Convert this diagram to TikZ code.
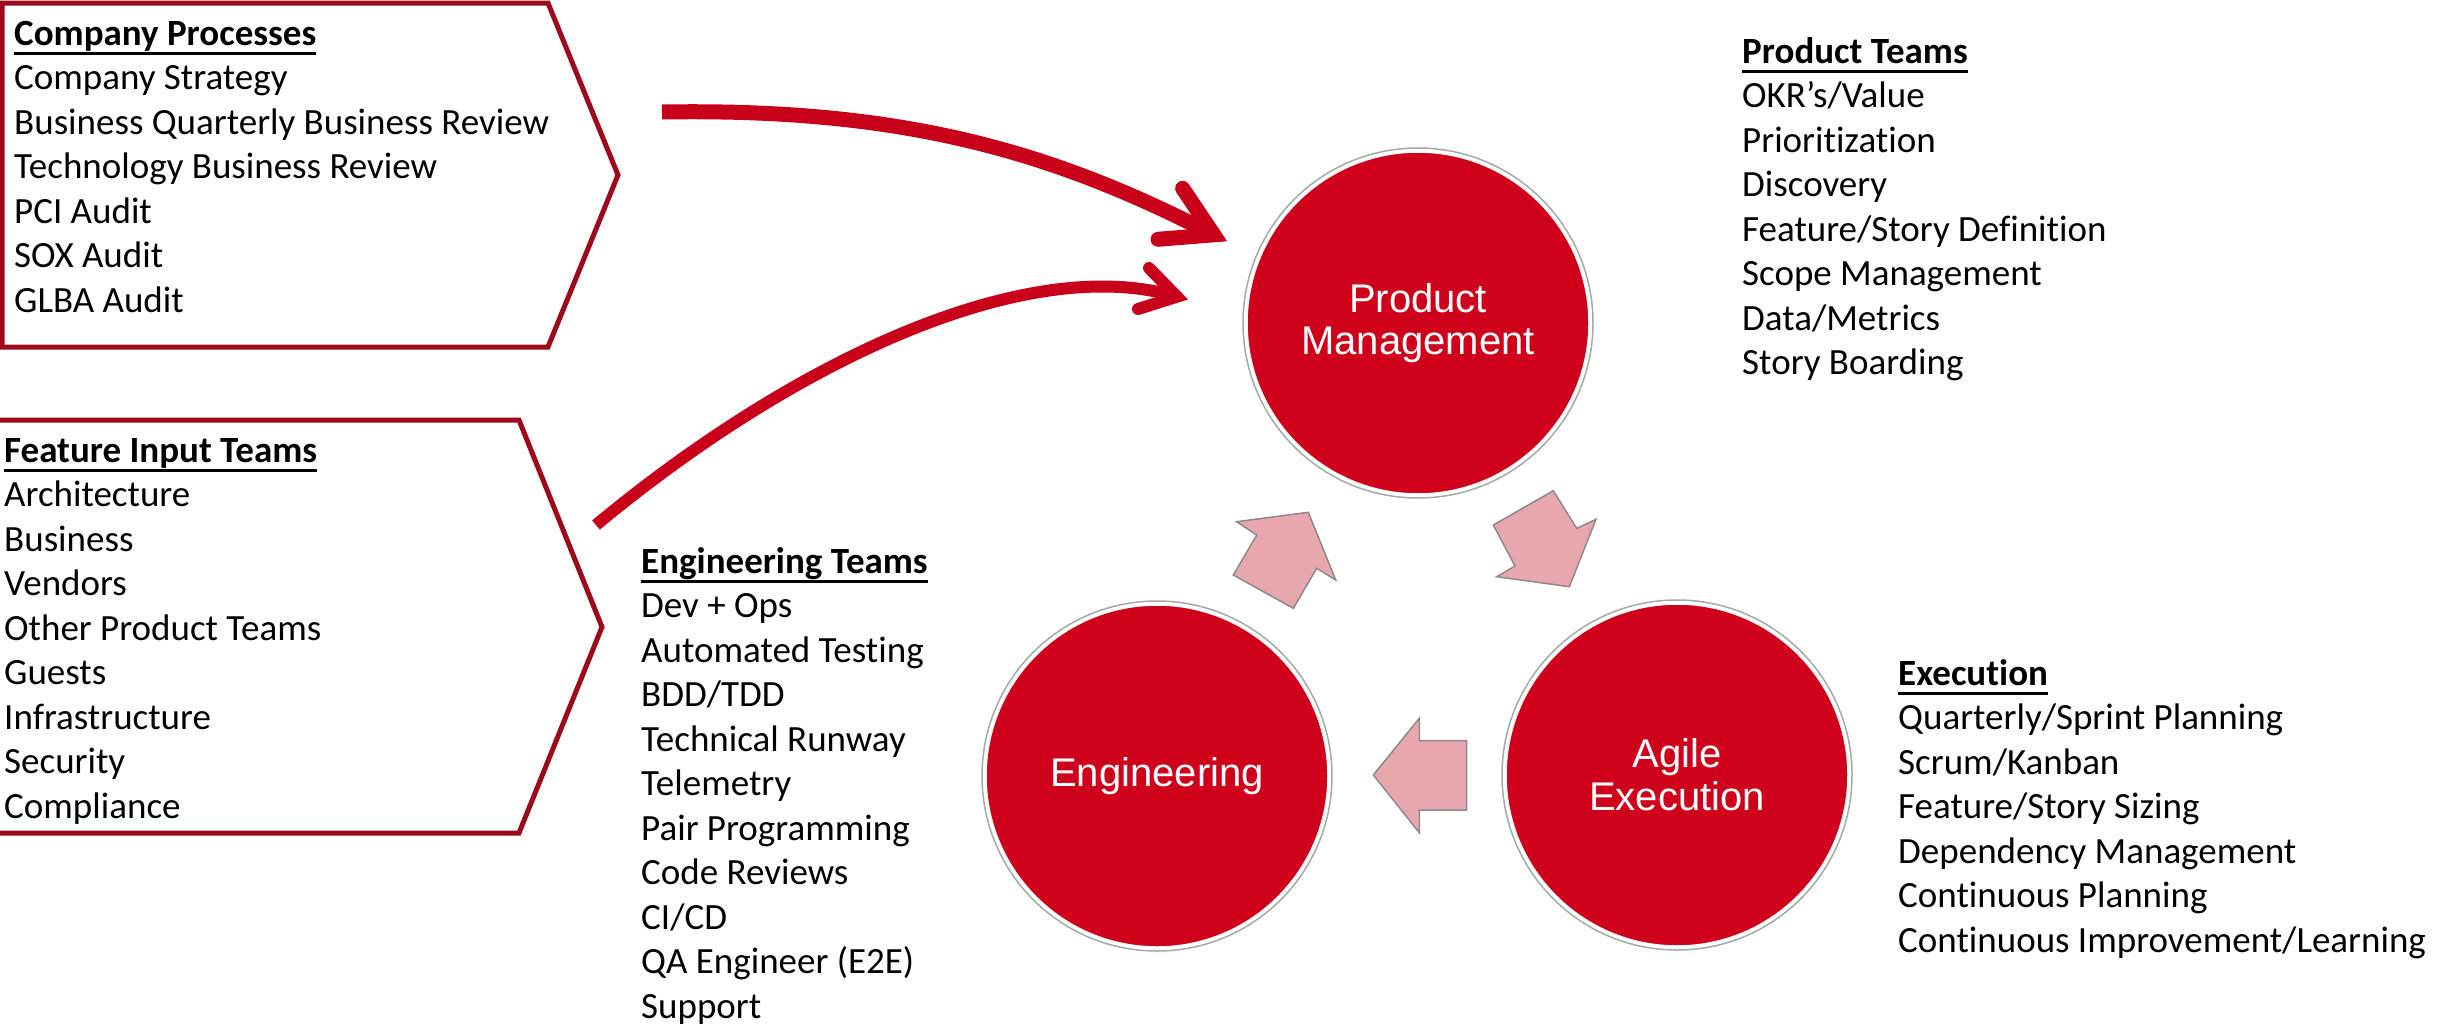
\documentclass[tikz,border=0pt]{standalone}
\usepackage{fontspec}
\setmainfont{Carlito}[Ligatures=NoCommon]
\newfontfamily\arialf{Liberation Sans}
\definecolor{arrred}{HTML}{C8001A}
\definecolor{circred}{HTML}{D0011B}
\definecolor{pentred}{HTML}{9C0A1C}
\definecolor{pinkfill}{HTML}{E8A7AF}
\definecolor{pinkline}{HTML}{8F8A8A}
\definecolor{ringgray}{HTML}{A3ACA3}
\newcommand\myhead[1]{\setbox0\hbox{\bfseries #1}\rlap{\rule[-9.5pt]{\wd0}{2.7pt}}\box0}
\begin{document}
\begin{tikzpicture}[x=1pt,y=-1pt,
  pent/.style={draw=pentred,line width=5pt,line join=miter},
  txt/.style={anchor=base west,inner sep=0pt,font=\fontsize{37}{44.5}\selectfont},
  bigc/.style={circle,fill=circred,draw=white,line width=3.5pt,minimum size=344pt,inner sep=0pt,
    text=white,align=center},
  ring/.style={draw=ringgray,line width=1.5pt},
  blockarrow/.style={fill=pinkfill,draw=pinkline,line width=1.5pt,line join=miter},
  redshaft/.style={draw=arrred,line cap=butt},
  redhead/.style={draw=arrred,line cap=round,line join=miter}]
\useasboundingbox (0,0) rectangle (2458,1031);
\fill[white] (0,0) rectangle (2458,1031);

% input pentagons
\draw[pent] (2,3) -- (548,3) -- (618,175) -- (548,347) -- (2,347) -- cycle;
\draw[pent] (-20,420) -- (519,420) -- (602,627) -- (519,833) -- (-20,833);

% text blocks
\node[txt] (cproc) at (14,45) {\begin{tabular}[t]{@{}l@{}}\myhead{Company Processes}\\
Company Strategy\\Business Quarterly Business Review\\Technology Business Review\\
PCI Audit\\SOX Audit\\GLBA Audit\end{tabular}};

\node[txt] (finput) at (4,462) {\begin{tabular}[t]{@{}l@{}}\myhead{Feature Input Teams}\\
Architecture\\Business\\Vendors\\Other Product Teams\\Guests\\Infrastructure\\Security\\Compliance\end{tabular}};

\node[txt] (pteams) at (1742,63) {\begin{tabular}[t]{@{}l@{}}\myhead{Product Teams}\\
OKR’s/Value\\Prioritization\\Discovery\\Feature/Story Definition\\Scope Management\\Data/Metrics\\Story Boarding\end{tabular}};

\node[txt] (eteams) at (641,573) {\begin{tabular}[t]{@{}l@{}}\myhead{Engineering Teams}\\
Dev + Ops\\Automated Testing\\BDD/TDD\\Technical Runway\\Telemetry\\Pair Programming\\Code Reviews\\CI/CD\\QA Engineer (E2E)\\Support\end{tabular}};

\node[txt] (exec) at (1898,685) {\begin{tabular}[t]{@{}l@{}}\myhead{Execution}\\
Quarterly/Sprint Planning\\Scrum/Kanban\\Feature/Story Sizing\\Dependency Management\\Continuous Planning\\Continuous Improvement/Learning\end{tabular}};

% circles
\node[bigc,font=\arialf\fontsize{40}{42}\selectfont] (pm) at (1418,323) {Product\\Management};
\node[bigc,font=\arialf\fontsize{40}{43}\selectfont] (eng) at (1157,776) {Engineering};
\node[bigc,font=\arialf\fontsize{40}{43}\selectfont] (ae) at (1677,775) {Agile\\Execution};
\draw[ring] (pm.center) circle[radius=175pt];
\draw[ring] (eng.center) circle[radius=175pt];
\draw[ring] (ae.center) circle[radius=175pt];

% pink block arrows
\draw[blockarrow] (1233.3,575) -- (1256.7,535) -- (1236.7,521.7) -- (1308.3,512.3)
  -- (1335.7,580) -- (1316.7,568.3) -- (1293.3,608.3) -- cycle;
\draw[blockarrow] (1493.3,525) -- (1553.3,490.7) -- (1576.7,528.3) -- (1596,519.3)
  -- (1569.3,586.7) -- (1496.7,576.7) -- (1515,566) -- cycle;
\draw[blockarrow] (1466.7,740.7) -- (1419.3,740.7) -- (1419.3,718.3) -- (1373.3,775)
  -- (1419.3,832.7) -- (1419.3,810) -- (1466.7,810) -- cycle;

% red curved arrows
\coordinate (ta0) at (662,112);
\coordinate (tav) at (1213.8,234.8);
\coordinate (tb1) at (1182.6,188.3);
\coordinate (tb2) at (1158,239.3);
\draw[redshaft,line width=15pt] (ta0) .. controls (900,108) and (1050,150) .. (tav);
\draw[redhead,line width=15pt] (tb1) -- (tav) -- (tb2);

\coordinate (la0) at (596,525);
\coordinate (lav) at (1177,296.7);
\coordinate (lb1) at (1149,268);
\coordinate (lb2) at (1138,309);
\draw[redshaft,line width=12pt] (la0) .. controls (796,359) and (1028,252) .. (lav);
\draw[redhead,line width=12pt] (lb1) -- (lav) -- (lb2);
\end{tikzpicture}
\end{document}
